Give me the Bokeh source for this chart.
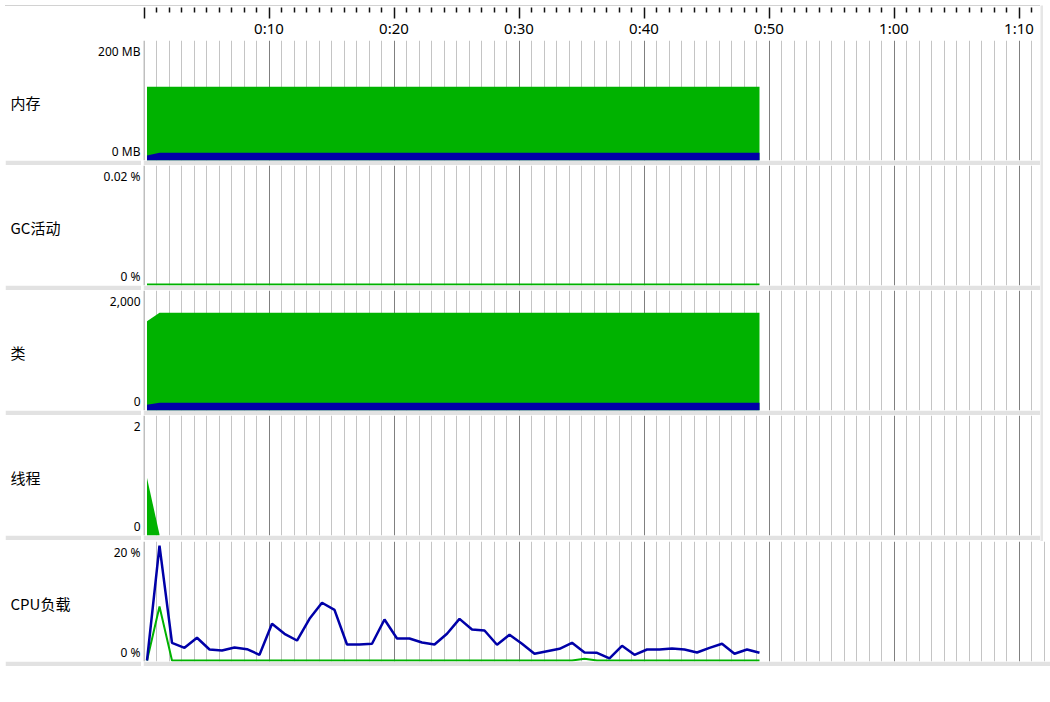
from bokeh.plotting import figure
from bokeh.layouts import column, row
from bokeh.models import Range1d, FixedTicker, Span
from bokeh.core.properties import value
from bokeh.embed import file_html
from bokeh.resources import INLINE

# ---------------- data ----------------
time_s = [0.24, 1.24, 2.24, 3.24, 4.24, 5.24, 6.24, 7.24, 8.24, 9.24,
          10.24, 11.24, 12.24, 13.24, 14.24, 15.24, 16.24, 17.24, 18.24, 19.24,
          20.24, 21.24, 22.24, 23.24, 24.24, 25.24, 26.24, 27.24, 28.24, 29.24,
          30.24, 31.24, 32.24, 33.24, 34.24, 35.24, 36.24, 37.24, 38.24, 39.24,
          40.24, 41.24, 42.24, 43.24, 44.24, 45.24, 46.24, 47.24, 48.24, 49.24]

heap_size_mb = [122.2, 122.2, 122.2, 122.2, 122.2, 122.2, 122.2, 122.2, 122.2, 122.2,
                122.2, 122.2, 122.2, 122.2, 122.2, 122.2, 122.2, 122.2, 122.2, 122.2,
                122.2, 122.2, 122.2, 122.2, 122.2, 122.2, 122.2, 122.2, 122.2, 122.2,
                122.2, 122.2, 122.2, 122.2, 122.2, 122.2, 122.2, 122.2, 122.2, 122.2,
                122.2, 122.2, 122.2, 122.2, 122.2, 122.2, 122.2, 122.2, 122.2, 122.2]
heap_used_mb = [6.7, 11.3, 11.3, 11.3, 11.3, 11.3, 11.3, 11.3, 11.3, 11.3,
                11.3, 11.3, 11.3, 11.3, 11.3, 11.3, 11.3, 11.3, 11.3, 11.3,
                11.3, 11.3, 11.3, 11.3, 11.3, 11.3, 11.3, 11.3, 11.3, 11.3,
                11.3, 11.3, 11.3, 11.3, 11.3, 11.3, 11.3, 11.3, 11.3, 11.3,
                11.3, 11.3, 11.3, 11.3, 11.3, 11.3, 11.3, 11.3, 11.3, 11.3]

gc_activity_pct = [0, 0, 0, 0, 0, 0, 0, 0, 0, 0,
                   0, 0, 0, 0, 0, 0, 0, 0, 0, 0,
                   0, 0, 0, 0, 0, 0, 0, 0, 0, 0,
                   0, 0, 0, 0, 0, 0, 0, 0, 0, 0,
                   0, 0, 0, 0, 0, 0, 0, 0, 0, 0]

classes_total = [1484, 1625, 1625, 1625, 1625, 1625, 1625, 1625, 1625, 1625,
                 1625, 1625, 1625, 1625, 1625, 1625, 1625, 1625, 1625, 1625,
                 1625, 1625, 1625, 1625, 1625, 1625, 1625, 1625, 1625, 1625,
                 1625, 1625, 1625, 1625, 1625, 1625, 1625, 1625, 1625, 1625,
                 1625, 1625, 1625, 1625, 1625, 1625, 1625, 1625, 1625, 1625]
classes_shared = [79, 113, 113, 113, 113, 113, 113, 113, 113, 113,
                  113, 113, 113, 113, 113, 113, 113, 113, 113, 113,
                  113, 113, 113, 113, 113, 113, 113, 113, 113, 113,
                  113, 113, 113, 113, 113, 113, 113, 113, 113, 113,
                  113, 113, 113, 113, 113, 113, 113, 113, 113, 113]

threads_time = [0.24, 1.24]
threads_live = [0.95, 0]

cpu_load_pct = [0.0, 19.3, 2.97, 2.13, 3.82, 1.85, 1.68, 2.18, 1.9, 0.96,
                6.17, 4.49, 3.36, 7.0, 9.7, 8.52, 2.69, 2.69, 2.81, 6.89,
                3.7, 3.7, 3.03, 2.69, 4.49, 7.0, 5.21, 5.04, 2.64, 4.32,
                2.81, 1.13, 1.56, 1.97, 2.97, 1.34, 1.29, 0.34, 2.47, 0.96,
                1.85, 1.85, 2.02, 1.85, 1.34, 2.13, 2.81, 1.13, 1.85, 1.29]
gc_cpu_pct = [0.0, 9.08, 0, 0, 0, 0, 0, 0, 0, 0,
              0, 0, 0, 0, 0, 0, 0, 0, 0, 0,
              0, 0, 0, 0, 0, 0, 0, 0, 0, 0,
              0, 0, 0, 0, 0, 0.3, 0, 0, 0, 0,
              0, 0, 0, 0, 0, 0, 0, 0, 0, 0]

panel_names = ["内存", "GC活动", "类", "线程", "CPU负载"]
tick_top = ["200 MB", "0.02 %", "2,000", "2", "20 %"]
tick_bottom = ["0 MB", "0 %", "0", "0", "0 %"]
axis_max = [200, 0.02, 2000, 2, 20]

time_ticks = [0, 10, 20, 30, 40, 50, 60, 70]
time_labels = ["", "0:10", "0:20", "0:30", "0:40", "0:50", "1:00", "1:10"]
minor_time_ticks = [1, 2, 3, 4, 5, 6, 7, 8, 9, 11, 12, 13, 14, 15, 16, 17, 18, 19,
                    21, 22, 23, 24, 25, 26, 27, 28, 29, 31, 32, 33, 34, 35, 36, 37, 38, 39,
                    41, 42, 43, 44, 45, 46, 47, 48, 49, 51, 52, 53, 54, 55, 56, 57, 58, 59,
                    61, 62, 63, 64, 65, 66, 67, 68, 69, 71, 72]

# ---------------- styling / layout ----------------
GREEN = "#00b200"
BLUE = "#0000a8"
BAND = "#e2e2e2"
MINOR = "#c4c4c4"
MAJOR = "#808080"
PX_PER_S = 12.5
FRAME_W = 897          # chart frames of the upper rows (end at the side panel)
FRAME_W_LAST = 907     # the bottom row runs to the window edge
LEFT_W = 136
GAP = 2
PANEL_H = 120
BAND_H = 5
TOP_H = 35

x_start = -0.04
xr = Range1d(x_start, x_start + FRAME_W / PX_PER_S)
xr_last = Range1d(x_start, x_start + FRAME_W_LAST / PX_PER_S)

CJK = value("Noto Sans CJK SC")
NUM = value("Noto Sans")


def make_top():
    p = figure(width=LEFT_W + GAP + FRAME_W, height=TOP_H, x_range=xr, y_range=Range1d(0, 1),
               output_backend="svg", toolbar_location=None,
               y_axis_location=None, x_axis_location="below",
               min_border_left=LEFT_W + GAP, min_border_right=0, min_border_top=0,
               min_border_bottom=TOP_H - 1, outline_line_color=None,
               styles={"border-top": "1px solid #d2d2d2"})
    ax = p.xaxis[0]
    ax.ticker = FixedTicker(ticks=time_ticks, minor_ticks=minor_time_ticks)
    ax.major_label_overrides = dict(zip(time_ticks, time_labels))
    ax.axis_line_color = None
    ax.major_tick_in = 0
    ax.major_tick_out = 11
    ax.minor_tick_in = 0
    ax.minor_tick_out = 5
    ax.major_tick_line_color = "#111111"
    ax.minor_tick_line_color = "#111111"
    ax.major_tick_line_width = 1.5
    ax.minor_tick_line_width = 1.5
    ax.major_label_text_font = "Noto Sans"
    ax.major_label_text_font_size = "15px"
    ax.major_label_text_color = "#000000"
    ax.major_label_standoff = -1
    p.xgrid.visible = False
    p.ygrid.visible = False
    return p


def make_panel(i, draw, frame_w, x_range):
    ymax = axis_max[i]
    yr = Range1d(-ymax / (PANEL_H - 1), ymax)

    left = figure(width=LEFT_W, height=PANEL_H + BAND_H, x_range=Range1d(0, LEFT_W), y_range=yr,
                  output_backend="svg", toolbar_location=None,
                  x_axis_location=None, y_axis_location=None,
                  min_border_left=0, min_border_right=0, min_border_top=0, min_border_bottom=BAND_H,
                  border_fill_color=BAND, background_fill_color="white", outline_line_color=None)
    left.xgrid.visible = False
    left.ygrid.visible = False
    left.text(x=[5], y=[(yr.start + yr.end) / 2], text=[panel_names[i]],
              text_font=CJK, text_font_size="15px", text_color="#000000",
              text_align="left", text_baseline="middle", y_offset=2)
    left.text(x=[135], y=[ymax], text=[tick_top[i]],
              text_font=NUM, text_font_size="12px", text_color="#000000",
              text_align="right", text_baseline="middle", y_offset=10.5)
    left.text(x=[135], y=[0], text=[tick_bottom[i]],
              text_font=NUM, text_font_size="12px", text_color="#000000",
              text_align="right", text_baseline="middle", y_offset=-8.5)

    chart = figure(width=frame_w, height=PANEL_H + BAND_H, x_range=x_range, y_range=yr,
                   output_backend="svg", toolbar_location=None,
                   x_axis_location=None, y_axis_location=None,
                   min_border_left=0, min_border_right=0, min_border_top=0, min_border_bottom=BAND_H,
                   border_fill_color=BAND, background_fill_color="white", outline_line_color=None)
    chart.xgrid.ticker = FixedTicker(ticks=time_ticks[1:], minor_ticks=minor_time_ticks)
    chart.xgrid.grid_line_color = MAJOR
    chart.xgrid.minor_grid_line_color = MINOR
    chart.ygrid.visible = False
    chart.add_layout(Span(location=0, dimension="height", line_color=MAJOR, line_width=1))
    draw(chart, yr)
    return row(left, chart, spacing=GAP)


def draw_memory(p, yr):
    p.varea(x=time_s, y1=yr.start, y2=heap_size_mb, fill_color=GREEN)
    p.varea(x=time_s, y1=yr.start, y2=heap_used_mb, fill_color=BLUE)


def draw_gc(p, yr):
    p.line(x=time_s, y=gc_activity_pct, line_color=GREEN, line_width=2)


def draw_classes(p, yr):
    p.varea(x=time_s, y1=yr.start, y2=classes_total, fill_color=GREEN)
    p.varea(x=time_s, y1=yr.start, y2=classes_shared, fill_color=BLUE)


def draw_threads(p, yr):
    p.varea(x=threads_time, y1=yr.start, y2=threads_live, fill_color=GREEN)


def draw_cpu(p, yr):
    p.line(x=time_s, y=gc_cpu_pct, line_color=GREEN, line_width=2)
    p.line(x=time_s, y=cpu_load_pct, line_color=BLUE, line_width=2.5)


upper_rows = [make_panel(0, draw_memory, FRAME_W, xr), make_panel(1, draw_gc, FRAME_W, xr),
              make_panel(2, draw_classes, FRAME_W, xr), make_panel(3, draw_threads, FRAME_W, xr)]
last_row = make_panel(4, draw_cpu, FRAME_W_LAST, xr_last)

upper_h = TOP_H + 1 + 4 * (PANEL_H + BAND_H)
# thin shadow of the side panel that covers the right edge of the upper rows
shadow = figure(width=3, height=upper_h, output_backend="svg", toolbar_location=None,
                x_axis_location=None, y_axis_location=None,
                min_border_left=0, min_border_right=0, min_border_top=0, min_border_bottom=0,
                background_fill_color="#e6e6e6", border_fill_color="#e6e6e6",
                outline_line_color=None)
shadow.xgrid.visible = False
shadow.ygrid.visible = False

upper = row(column(make_top(), *upper_rows, spacing=0), shadow, spacing=0)
layout = column(upper, last_row, spacing=0, margin=(5, 0, 0, 5))

open("out.html", "w").write(file_html(layout, INLINE))
